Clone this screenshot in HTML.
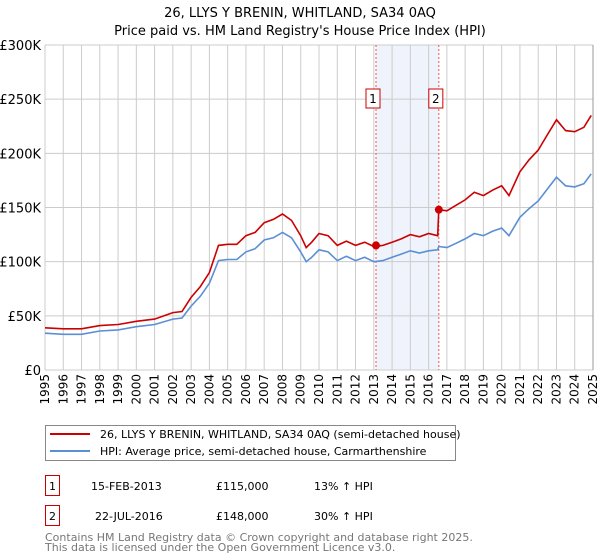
<!DOCTYPE html>
<html><head><meta charset="utf-8"><style>
body{margin:0;background:#fff;font-family:"Liberation Sans","DejaVu Sans",sans-serif;}
#wrap{position:relative;width:600px;height:560px;overflow:hidden;}
</style></head><body>
<div id="wrap">
<svg id="svg" width="600" height="560" xmlns="http://www.w3.org/2000/svg" font-family="DejaVu Sans, Liberation Sans, sans-serif"></svg>
</div>
<script>
const dates=[1995,1996,1997,1998,1999,2000,2001,2002,2002.5,2003,2003.5,2004,2004.5,2005,2005.5,2006,2006.5,2007,2007.5,2008,2008.5,2009,2009.3,2009.6,2010,2010.5,2011,2011.5,2012,2012.5,2013,2013.5,2014,2014.5,2015,2015.5,2016,2016.5,2016.56,2017,2017.5,2018,2018.5,2019,2019.5,2020,2020.4,2021,2021.5,2022,2022.5,2023,2023.5,2024,2024.5,2024.9];
const priceValues=[39,38,38,41,42,45,47,53,54,67,77,90,115,116,116,124,127,136,139,144,138,124,113,118,126,124,115,119,115,118,114,115,118,121,125,123,126,124,148,147,152,157,164,161,166,170,161,183,194,203,217,231,221,220,224,235];
const hpiValues=[34,33,33,36,37,40,42,47,48,59,68,80,101,102,102,109,112,120,122,127,122,109,100,104,111,109,101,105,101,104,100,101,104,107,110,108,110,111,114,113,117,121,126,124,128,131,124,141,149,156,167,178,170,169,172,181];
const saleDates=[2013.12,2016.56];
const saleValues=[115,148];
const saleLabels=["1","2"];
const yTicks=[0,50,100,150,200,250,300];
const yTickLabels=["£0","£50K","£100K","£150K","£200K","£250K","£300K"];
const xTicks=[1995,1996,1997,1998,1999,2000,2001,2002,2003,2004,2005,2006,2007,2008,2009,2010,2011,2012,2013,2014,2015,2016,2017,2018,2019,2020,2021,2022,2023,2024,2025];

const L=45,R=593,T=45,B=370;
const X=v=>L+(v-1995)/30*(R-L);
const Y=v=>B-v/300*(B-T);
const svg=document.getElementById('svg');
const NS='http://www.w3.org/2000/svg';
function mk(tag,attrs,parent){const e=document.createElementNS(NS,tag);for(const k in attrs)e.setAttribute(k,attrs[k]);(parent||svg).appendChild(e);return e;}

let t=mk('text',{x:300,y:17,'text-anchor':'middle','font-size':13,fill:'#000'});t.textContent='26, LLYS Y BRENIN, WHITLAND, SA34 0AQ';


t=mk('text',{x:300,y:35,'text-anchor':'middle','font-size':13,fill:'#000'});t.textContent="Price paid vs. HM Land Registry's House Price Index (HPI)";



let sh=mk('rect',{x:X(saleDates[0]),y:T,width:X(saleDates[1])-X(saleDates[0]),height:B-T,fill:'#eef3fc'});



xTicks.forEach(v=>{const l=mk('line',{x1:X(v),x2:X(v),y1:T,y2:B,stroke:'#cccccc','stroke-width':1});


const tx=mk('text',{transform:`translate(${X(v)+4},${B+4}) rotate(-90)`,'text-anchor':'end','font-size':12,fill:'#000'});tx.textContent=v;

});
yTicks.forEach((v,i)=>{const l=mk('line',{x1:L,x2:R,y1:Y(v),y2:Y(v),stroke:'#cccccc','stroke-width':1});


const tx=mk('text',{x:L-4,y:Y(v)+5,'text-anchor':'end','font-size':13,fill:'#000'});tx.textContent=yTickLabels[i];

});

saleDates.forEach((d,i)=>{const l=mk('line',{x1:X(d),x2:X(d),y1:T,y2:B,stroke:'#ee5555','stroke-width':1,'stroke-dasharray':'2,2'});


const g=mk('g',{});


mk('rect',{x:X(d)-10,y:89,width:14,height:19,fill:'#fff',stroke:'#cc0000','stroke-width':1},g);
const tx=mk('text',{x:X(d)-3,y:103,'text-anchor':'middle','font-size':12,fill:'#000'},g);tx.textContent=saleLabels[i];});

const pth=(vals)=>dates.map((d,i)=>(i?'L':'M')+X(d).toFixed(1)+','+Y(vals[i]).toFixed(1)).join('');
let p=mk('path',{d:pth(hpiValues),fill:'none',stroke:'#5b8fd4','stroke-width':1.6});


p=mk('path',{d:pth(priceValues),fill:'none',stroke:'#cc0000','stroke-width':1.6});


saleDates.forEach((d,i)=>{const c=mk('circle',{cx:X(d),cy:Y(saleValues[i]),r:4,fill:'#cc0000'});

});
let ax=mk('line',{x1:R,x2:R,y1:T,y2:B,stroke:'#999','stroke-width':1});



// legend
const lg=mk('g',{});


mk('rect',{x:45.5,y:425.5,width:410,height:35,fill:'#fff',stroke:'#888','stroke-width':1},lg);
mk('line',{x1:50,x2:90,y1:434,y2:434,stroke:'#cc0000','stroke-width':2},lg);
mk('line',{x1:50,x2:90,y1:451,y2:451,stroke:'#5b8fd4','stroke-width':2},lg);
let lt=mk('text',{x:100,y:438,'font-size':11,fill:'#000'},lg);lt.textContent='26, LLYS Y BRENIN, WHITLAND, SA34 0AQ (semi-detached house)';


lt=mk('text',{x:100,y:455,'font-size':11,fill:'#000'},lg);lt.textContent='HPI: Average price, semi-detached house, Carmarthenshire';



// table
const rows=[["1","15-FEB-2013","£115,000","13% ↑ HPI",475,91],["2","22-JUL-2016","£148,000","30% ↑ HPI",505,95]];
rows.forEach(r=>{const g=mk('g',{});


mk('rect',{x:45.5,y:r[4]+0.5,width:14,height:20,fill:'#fff',stroke:'#cc0000','stroke-width':1},g);
let a=mk('text',{x:52.5,y:r[4]+15,'text-anchor':'middle','font-size':11},g);a.textContent=r[0];
a=mk('text',{x:r[5],y:r[4]+15,'font-size':11},g);a.textContent=r[1];
a=mk('text',{x:216,y:r[4]+15,'font-size':11},g);a.textContent=r[2];
a=mk('text',{x:314,y:r[4]+15,'font-size':11},g);a.textContent=r[3];});
let f=mk('text',{x:45,y:541,'font-size':11,fill:'#777'});f.textContent='Contains HM Land Registry data © Crown copyright and database right 2025.';


f=mk('text',{x:45,y:551,'font-size':11,fill:'#777'});f.textContent='This data is licensed under the Open Government Licence v3.0.';


</script>
</body></html>
